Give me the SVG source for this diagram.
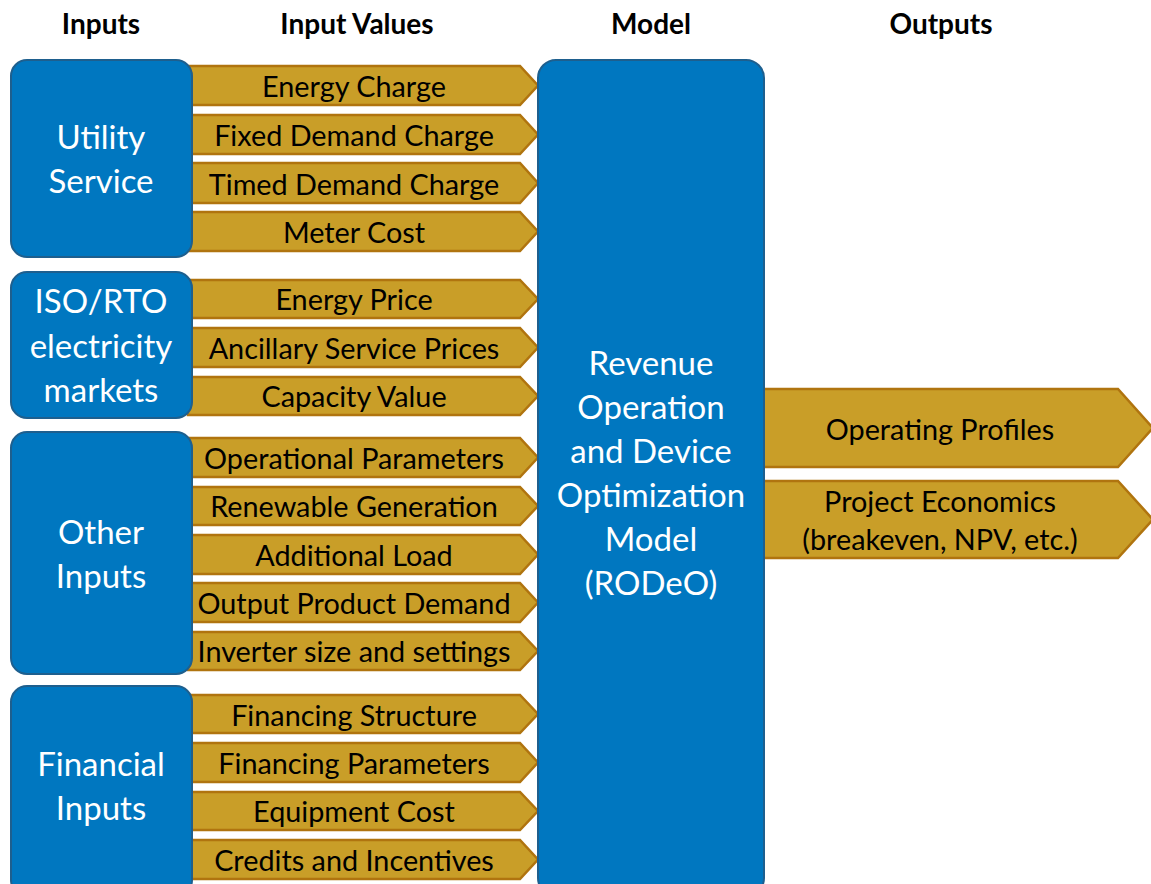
<svg xmlns="http://www.w3.org/2000/svg" width="1151" height="884" viewBox="0 0 1151 884">
<style>
.hdr{font-family:Lato,"Open Sans","Liberation Sans",sans-serif;font-weight:bold;font-size:28px;fill:#000;text-anchor:middle}
.box{fill:#0077C0;stroke:#1E5F8E;stroke-width:2}
.bl{font-family:Lato,"Open Sans","Liberation Sans",sans-serif;font-size:33px;fill:#fff;text-anchor:middle}
.arr{fill:#C99E28;stroke:#B0740F;stroke-width:2.5;stroke-linejoin:miter}
.al{font-family:Lato,"Open Sans","Liberation Sans",sans-serif;font-size:28.8px;fill:#000;text-anchor:middle}
</style>
<rect width="1151" height="884" fill="#fff"/>
<g id="headers">
<text class="hdr" x="101" y="34">Inputs</text>
<text class="hdr" x="357" y="34">Input Values</text>
<text class="hdr" x="651" y="34">Model</text>
<text class="hdr" x="941" y="34">Outputs</text>
</g>
<g id="connectors">
<g id="in-energy-charge"><polygon class="arr" points="188,66 520,66 538,85.5 520,105 188,105"/><text class="al" x="354" y="97">Energy Charge</text></g>
<g id="in-fixed-demand"><polygon class="arr" points="188,115 520,115 538,134.5 520,154 188,154"/><text class="al" x="354" y="146">Fixed Demand Charge</text></g>
<g id="in-timed-demand"><polygon class="arr" points="188,163 520,163 538,183 520,203 188,203"/><text class="al" x="354" y="195">Timed Demand Charge</text></g>
<g id="in-meter-cost"><polygon class="arr" points="188,212 520,212 538,231.5 520,251 188,251"/><text class="al" x="354" y="243">Meter Cost</text></g>
<g id="in-energy-price"><polygon class="arr" points="188,280 520,280 538,299 520,318 188,318"/><text class="al" x="354" y="310">Energy Price</text></g>
<g id="in-ancillary"><polygon class="arr" points="188,328 520,328 538,347.5 520,367 188,367"/><text class="al" x="354" y="359">Ancillary Service Prices</text></g>
<g id="in-capacity"><polygon class="arr" points="188,377 520,377 538,396 520,415 188,415"/><text class="al" x="354" y="407">Capacity Value</text></g>
<g id="in-operational"><polygon class="arr" points="188,438 520,438 538,457.5 520,477 188,477"/><text class="al" x="354" y="469">Operational Parameters</text></g>
<g id="in-renewable"><polygon class="arr" points="188,487 520,487 538,506 520,525 188,525"/><text class="al" x="354" y="517">Renewable Generation</text></g>
<g id="in-additional-load"><polygon class="arr" points="188,535 520,535 538,554.5 520,574 188,574"/><text class="al" x="354" y="566">Additional Load</text></g>
<g id="in-output-demand"><polygon class="arr" points="188,583 520,583 538,602.5 520,622 188,622"/><text class="al" x="354" y="614">Output Product Demand</text></g>
<g id="in-inverter"><polygon class="arr" points="188,632 520,632 538,651 520,670 188,670"/><text class="al" x="354" y="662">Inverter size and settings</text></g>
<g id="in-fin-structure"><polygon class="arr" points="188,695 520,695 538,714 520,733 188,733"/><text class="al" x="354" y="726">Financing Structure</text></g>
<g id="in-fin-params"><polygon class="arr" points="188,743 520,743 538,762.5 520,782 188,782"/><text class="al" x="354" y="774">Financing Parameters</text></g>
<g id="in-equipment"><polygon class="arr" points="188,792 520,792 538,811 520,830 188,830"/><text class="al" x="354" y="822">Equipment Cost</text></g>
<g id="in-credits"><polygon class="arr" points="188,840 520,840 538,859.5 520,879 188,879"/><text class="al" x="354" y="871">Credits and Incentives</text></g>
<g id="out-operating"><polygon class="arr" points="762,389 1118,389 1153,428 1118,467 762,467"/><text class="al" x="940" y="440">Operating Profiles</text></g>
<g id="out-economics"><polygon class="arr" points="762,481 1118,481 1153,519.5 1118,558 762,558"/><text class="al" x="940" y="512">Project Economics</text><text class="al" x="940" y="550">(breakeven, NPV, etc.)</text></g>
</g>
<g id="utility-service"><rect class="box" x="11" y="60" width="181" height="197" rx="16"/><text class="bl" x="101" y="149">Utility</text><text class="bl" x="101" y="193">Service</text></g>
<g id="iso-rto"><rect class="box" x="11" y="272" width="181" height="146" rx="16"/><text class="bl" x="101" y="313">ISO/RTO</text><text class="bl" x="101" y="358">electricity</text><text class="bl" x="101" y="402">markets</text></g>
<g id="other-inputs"><rect class="box" x="11" y="432" width="181" height="242" rx="16"/><text class="bl" x="101" y="544">Other</text><text class="bl" x="101" y="588">Inputs</text></g>
<g id="financial-inputs"><rect class="box" x="11" y="686" width="181" height="210" rx="16"/><text class="bl" x="101" y="776">Financial</text><text class="bl" x="101" y="820">Inputs</text></g>
<g id="rodeo"><rect class="box" x="538" y="60" width="226" height="836" rx="18"/>
<text class="bl" x="651" y="375">Revenue</text><text class="bl" x="651" y="419">Operation</text><text class="bl" x="651" y="463">and Device</text><text class="bl" x="651" y="507">Optimization</text><text class="bl" x="651" y="551">Model</text><text class="bl" x="651" y="595">(RODeO)</text></g>
</svg>
